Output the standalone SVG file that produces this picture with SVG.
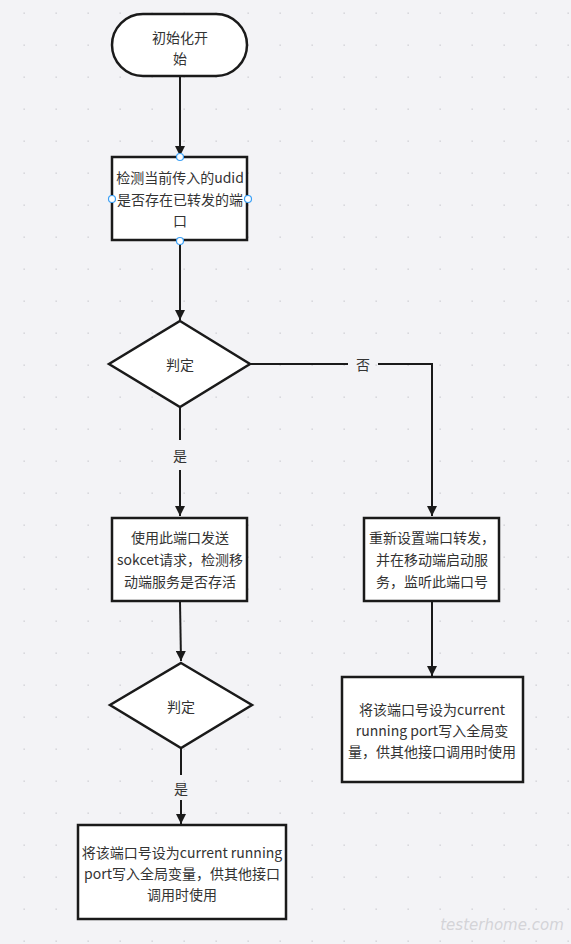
<svg xmlns="http://www.w3.org/2000/svg" width="571" height="944" viewBox="0 0 571 944">
<defs>
<pattern id="dots" x="0" y="0" width="32" height="32" patternUnits="userSpaceOnUse">
<rect x="23.5" y="12.5" width="1.3" height="1.3" fill="#c9c9cf"/>
</pattern>
<marker id="arr" viewBox="0 0 10 10" refX="10" refY="5" markerWidth="10" markerHeight="10" markerUnits="userSpaceOnUse" orient="auto">
<path d="M0,0 L10,5 L0,10 Z" fill="#1a1a1a"/>
</marker>
</defs>
<style>
.shape{fill:#fff;stroke:#1a1a1a;stroke-width:2.5}
.line{fill:none;stroke:#1a1a1a;stroke-width:2}
.t{font-family:"Noto Sans CJK SC","Noto Sans",sans-serif;font-size:14px;fill:#333;text-anchor:middle;dominant-baseline:central}
.h{fill:#fff;stroke:#3a9ff5;stroke-width:1.2}
</style>
<rect width="571" height="944" fill="#f3f3f6"/>
<rect width="571" height="944" fill="url(#dots)"/>
<g id="connectors">
<path class="line" d="M180,77 L180,156" marker-end="url(#arr)"/>
<path class="line" d="M180,241 L180,320" marker-end="url(#arr)"/>
<path class="line" d="M250,364 L348,364 M378,364 L432,364 L432,516" marker-end="url(#arr)"/>
<path class="line" d="M180,407 L180,440"/>
<path class="line" d="M180,470 L180,516" marker-end="url(#arr)"/>
<path class="line" d="M180,602 L181,661" marker-end="url(#arr)"/>
<path class="line" d="M432,602 L432,676" marker-end="url(#arr)"/>
<path class="line" d="M181,748 L181,775"/>
<path class="line" d="M181,800 L181,824" marker-end="url(#arr)"/>
<text class="t" x="363" y="364">否</text>
<text class="t" x="180" y="455">是</text>
<text class="t" x="181" y="788">是</text>
</g>
<g id="start">
<rect class="shape" x="112" y="14" width="135" height="62" rx="31" ry="31"/>
<text class="t" x="180" y="37">初始化开</text>
<text class="t" x="180" y="58">始</text>
</g>
<g id="check-udid">
<rect class="shape" x="112" y="157" width="135" height="83"/>
<text class="t" x="180" y="177">检测当前传入的udid</text>
<text class="t" x="180" y="199">是否存在已转发的端</text>
<text class="t" x="180" y="220">口</text>
<circle class="h" cx="180" cy="157" r="3.5"/>
<circle class="h" cx="112" cy="199" r="3.5"/>
<circle class="h" cx="248" cy="199" r="3.5"/>
<circle class="h" cx="180" cy="241" r="3.5"/>
</g>
<g id="decision1">
<polygon class="shape" points="180,321 250,364 180,407 109,364"/>
<text class="t" x="180" y="364">判定</text>
</g>
<g id="socket-check">
<rect class="shape" x="112" y="518" width="135" height="83"/>
<text class="t" x="180" y="537">使用此端口发送</text>
<text class="t" x="180" y="559">sokcet请求，检测移</text>
<text class="t" x="180" y="581">动端服务是否存活</text>
</g>
<g id="reset-forward">
<rect class="shape" x="364" y="518" width="135" height="83"/>
<text class="t" x="432" y="537">重新设置端口转发，</text>
<text class="t" x="432" y="559">并在移动端启动服</text>
<text class="t" x="432" y="581">务，监听此端口号</text>
</g>
<g id="decision2">
<polygon class="shape" points="181,663 252,705 181,748 110,705"/>
<text class="t" x="181" y="706">判定</text>
</g>
<g id="set-port-right">
<rect class="shape" x="342" y="677" width="181" height="105"/>
<text class="t" x="432" y="709">将该端口号设为current</text>
<text class="t" x="432" y="730">running port写入全局变</text>
<text class="t" x="432" y="751">量，供其他接口调用时使用</text>
</g>
<g id="set-port-left">
<rect class="shape" x="78" y="825" width="208" height="94"/>
<text class="t" x="182" y="852">将该端口号设为current running</text>
<text class="t" x="182" y="873">port写入全局变量，供其他接口</text>
<text class="t" x="182" y="894">调用时使用</text>
</g>
<text x="502" y="930" font-family="'DejaVu Sans',sans-serif" font-style="italic" font-size="15" fill="#d4d4d8" text-anchor="middle">testerhome.com</text>
</svg>
